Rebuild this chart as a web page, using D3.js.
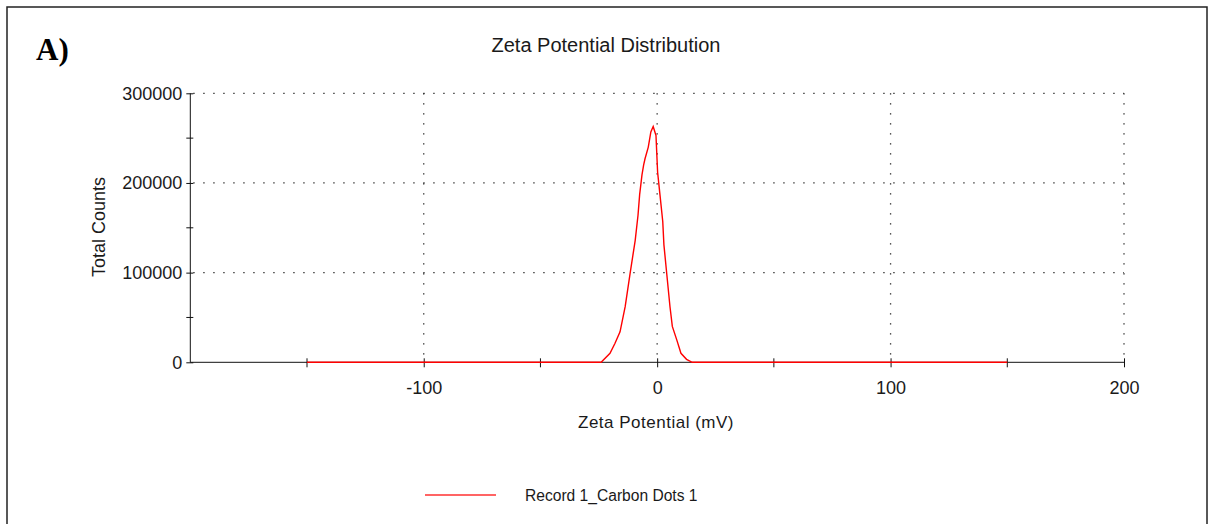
<!DOCTYPE html>
<html><head><meta charset="utf-8">
<script src="https://cdn.jsdelivr.net/npm/d3@7"></script>
<style>body{margin:0;background:#fff}svg{display:block}text{font-family:"Liberation Sans",Arial,sans-serif;fill:#1a1a1a}</style>
</head><body><svg id="c" width="1209" height="524"></svg>
<script>
// Data
const zetaMv = [-150, -24, -20.2, -18.1, -15.9, -13.7, -11.6, -9.4, -8.2, -7.5, -6.5, -5.8, -5.2, -3.8, -2.7, -1.7, -0.5, 0.2, 1.2, 2.4, 2.9, 4.1, 5.5, 6.5, 8.4, 10.2, 12.6, 15, 150];
const totalCounts = [0, 0, 10000, 21000, 34000, 62000, 99000, 136000, 164000, 187000, 209000, 220000, 227000, 240000, 257000, 263000, 253000, 212000, 187000, 157000, 131000, 99000, 62000, 40000, 25000, 10000, 3300, 0, 0];
const xTicks = [-100, 0, 100, 200];
const xMinorTicks = [-150, -50, 50, 150];
const yTicks = [0, 100000, 200000, 300000];
const yMinorTicks = [50000, 150000, 250000];
const titleText = "Zeta Potential Distribution";
const xLabel = "Zeta Potential (mV)";
const yLabel = "Total Counts";
const seriesName = "Record 1_Carbon Dots 1";
const panelLabel = "A)";

const svg = d3.select("#c");
const x = d3.scaleLinear().domain([-200, 200]).range([190.3, 1124]);
const y = d3.scaleLinear().domain([0, 300000]).range([362.3, 93.3]);
const fmt = d => String(d);

// frame
svg.append("rect").attr("x", 7).attr("y", 7).attr("width", 1200).attr("height", 540)
  .attr("fill", "none").attr("stroke", "#222").attr("stroke-width", 1.5);

svg.append("text").attr("x", 36).attr("y", 60).text(panelLabel)
  .style("font-family", "'Liberation Serif','Times New Roman',serif").style("font-weight", "bold").style("font-size", "31px").style("fill", "#000");

svg.append("text").attr("x", 606).attr("y", 52).attr("text-anchor", "middle").style("font-size", "20px").text(titleText);

// grid
const grid = svg.append("g").attr("stroke", "#222").attr("stroke-width", 1.3).attr("stroke-dasharray", "1.3,8.7");
grid.selectAll("line.h").data(yTicks.filter(d => d > 0)).join("line")
  .attr("x1", x(-200) + 3).attr("x2", x(200)).attr("y1", d => y(d)).attr("y2", d => y(d));
grid.selectAll("line.v").data(xTicks).join("line")
  .attr("x1", d => x(d)).attr("x2", d => x(d)).attr("y1", y(300000)).attr("y2", y(0) - 3);

// axes
const yAxis = d3.axisLeft(y).tickValues(yTicks).tickSize(4).tickPadding(6).tickFormat(fmt);
const gy = svg.append("g").attr("transform", `translate(${x(-200)},0)`).call(yAxis);
gy.select(".domain").attr("d", `M0,${y(300000)}V${y(0)}`).attr("stroke", "#111");
gy.selectAll(".tick line").attr("x2", -4).attr("x1", 3).attr("stroke", "#111");
gy.selectAll(".tick text").style("font-size", "18px").style("font-family", "'Liberation Sans',Arial,sans-serif").attr("fill", "#1a1a1a").attr("x", -8);
gy.selectAll("line.minor").data(yMinorTicks).join("line").attr("class", "minor")
  .attr("x1", -4).attr("x2", 3).attr("y1", d => y(d)).attr("y2", d => y(d)).attr("stroke", "#111");

const xAxis = d3.axisBottom(x).tickValues(xTicks).tickSize(5).tickPadding(14).tickFormat(fmt);
const gx = svg.append("g").attr("transform", `translate(0,${y(0)})`).call(xAxis);
gx.select(".domain").attr("d", `M${x(-200)},0H${x(200)}`).attr("stroke", "#111");
gx.selectAll(".tick line").attr("y1", -4).attr("y2", 5).attr("stroke", "#111");
gx.selectAll(".tick text").style("font-size", "18px").style("font-family", "'Liberation Sans',Arial,sans-serif").attr("fill", "#1a1a1a");
gx.selectAll("line.minor").data(xMinorTicks).join("line").attr("class", "minor")
  .attr("x1", d => x(d)).attr("x2", d => x(d)).attr("y1", -4).attr("y2", 5).attr("stroke", "#111");

svg.append("text").attr("x", 656).attr("y", 428).attr("text-anchor", "middle").style("font-size", "17px").style("letter-spacing", "0.5px").text(xLabel);
svg.append("text").attr("transform", "translate(105,227) rotate(-90)").attr("text-anchor", "middle").style("font-size", "18px").text(yLabel);

// series
const pts = zetaMv.map((v, i) => [v, totalCounts[i]]);
svg.append("path").datum(pts).attr("fill", "none").attr("stroke", "#ff0000").attr("stroke-width", 1.4)
  .attr("d", d3.line().x(d => x(d[0])).y(d => y(d[1])));

// legend
svg.append("line").attr("x1", 425).attr("x2", 496).attr("y1", 495).attr("y2", 495).attr("stroke", "#ff3030").attr("stroke-width", 1.3);
svg.append("text").attr("x", 525).attr("y", 501).style("font-size", "15.6px").text(seriesName);
</script></body></html>
